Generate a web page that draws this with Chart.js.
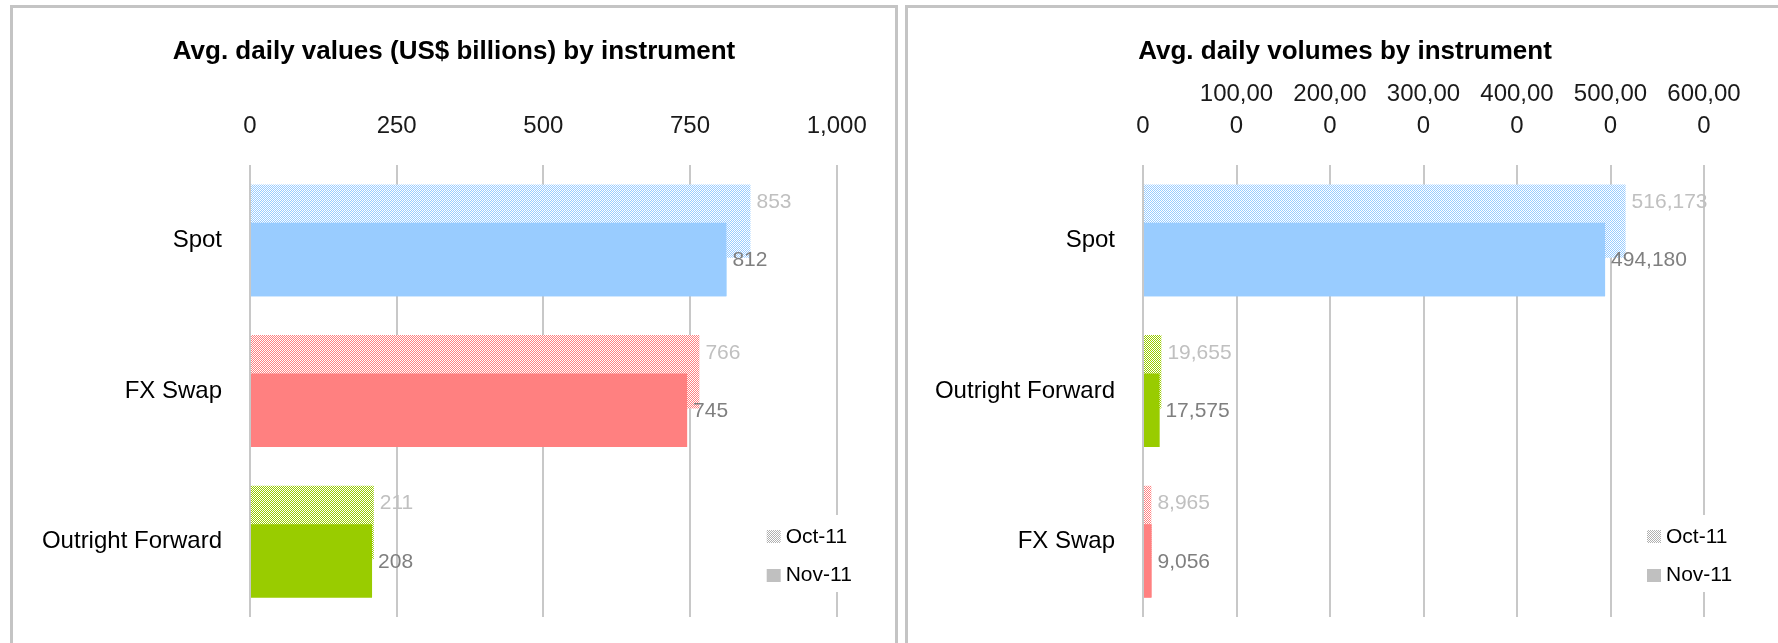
<!DOCTYPE html>
<html>
<head>
<meta charset="utf-8">
<script src="https://cdn.jsdelivr.net/npm/chart.js@4.4.1/dist/chart.umd.min.js"></script>
<style>
    html, body { margin: 0; padding: 0; background: #fff; overflow: hidden; width: 1778px; height: 643px; }
    .panel { position: absolute; border: 3px solid #c4c4c4; border-bottom: none; box-sizing: border-box; }
    #panelLeft { left: 10px; top: 5px; width: 888px; height: 660px; }
    #panelRight { left: 905px; top: 5px; width: 900px; height: 660px; }
    canvas { position: absolute; }
    #valuesChart { left: 13px; top: 8px; }
    #volumesChart { left: 908px; top: 8px; }
</style>
</head>
<body>
<div class="panel" id="panelLeft"></div>
<div class="panel" id="panelRight"></div>
<canvas id="valuesChart" width="882" height="635"></canvas>
<canvas id="volumesChart" width="874" height="635"></canvas>
<script>
// values chart (US$ billions)
const valueCategories = ['Spot', 'FX Swap', 'Outright Forward'];
const valuesOct = [853, 766, 211];
const valuesNov = [812, 745, 208];
const valueTicks = ['0', '250', '500', '750', '1,000'];

// volumes chart
const volumeCategories = ['Spot', 'Outright Forward', 'FX Swap'];
const volumesOct = [516173, 19655, 8965];
const volumesNov = [494180, 17575, 9056];
const volumeTicks = [['', '0'], ['100,00', '0'], ['200,00', '0'], ['300,00', '0'], ['400,00', '0'], ['500,00', '0'], ['600,00', '0']];

const seriesNames = ['Oct-11', 'Nov-11'];
const instrumentColors = { 'Spot': '#99ccff', 'FX Swap': '#ff8080', 'Outright Forward': '#99cc00' };

const FONT = '"Liberation Sans", Arial, sans-serif';
Chart.defaults.font.family = FONT;

function checker(color) {
    const c = document.createElement('canvas');
    c.width = 2;
    c.height = 2;
    const g = c.getContext('2d');
    g.fillStyle = '#ffffff';
    g.fillRect(0, 0, 2, 2);
    g.fillStyle = color;
    g.fillRect(0, 0, 1, 1);
    g.fillRect(1, 1, 1, 1);
    return g.createPattern(c, 'repeat');
}

// Nov bars sit on top of the Oct bars, then the value labels
const barLabels = {
    id: 'barLabels',
    afterDatasetsDraw(chart) {
        chart.getDatasetMeta(1).controller.draw();
        const ctx = chart.ctx;
        ctx.save();
        ctx.font = '21px ' + FONT;
        ctx.textAlign = 'left';
        ctx.textBaseline = 'middle';
        chart.data.datasets.forEach((ds, i) => {
            ctx.fillStyle = i === 0 ? '#c0c0c0' : '#7f7f7f';
            chart.getDatasetMeta(i).data.forEach((bar, j) => {
                const y = i === 0 ? bar.y - bar.height * 0.26 : bar.y + 1;
                ctx.fillText(ds.data[j].toLocaleString('en-US'), bar.x + 6, y);
            });
        });
        ctx.restore();
    }
};

// small legend in the lower right corner of the plot
const cornerLegend = {
    id: 'cornerLegend',
    afterDatasetsDraw(chart, args, opts) {
        const { right, bottom } = chart.chartArea;
        const ctx = chart.ctx;
        const x = right + opts.dx;
        ctx.save();
        ctx.fillStyle = '#ffffff';
        ctx.fillRect(x - 7, bottom - 102, opts.width, 77);
        ctx.fillStyle = checker('#b0b0b0');
        ctx.fillRect(x, bottom - 87, 14, 13);
        ctx.fillStyle = '#c0c0c0';
        ctx.fillRect(x, bottom - 48, 14, 13);
        ctx.fillStyle = '#000';
        ctx.font = '21px ' + FONT;
        ctx.textAlign = 'left';
        ctx.textBaseline = 'middle';
        ctx.fillText(seriesNames[0], x + 19, bottom - 80);
        ctx.fillText(seriesNames[1], x + 19, bottom - 42);
        ctx.restore();
    }
};

function buildChart(id, title, categories, oct, nov, max, step, tickLabels, axisWidth, rightGap, legendDx, legendWidth) {
    const solid = categories.map(c => instrumentColors[c]);
    const hatched = categories.map(c => checker(instrumentColors[c]));
    return new Chart(document.getElementById(id), {
        type: 'bar',
        data: {
            labels: categories,
            datasets: [
                { label: seriesNames[0], data: oct, backgroundColor: hatched, yAxisID: 'y' },
                { label: seriesNames[1], data: nov, backgroundColor: solid, yAxisID: 'y' }
            ]
        },
        options: {
            indexAxis: 'y',
            responsive: false,
            animation: false,
            layout: { padding: { left: 0, right: 0, top: 0, bottom: 26 } },
            datasets: { bar: { categoryPercentage: 0.51, barPercentage: 1.91 } },
            scales: {
                x: {
                    type: 'linear',
                    position: 'top',
                    min: 0,
                    max: max,
                    ticks: {
                        stepSize: step,
                        padding: 23,
                        color: '#1a1a1a',
                        font: { size: 24, lineHeight: 1.33 },
                        callback: (v, i) => tickLabels[i]
                    },
                    grid: { color: '#c8c8c8', lineWidth: 2, drawTicks: false },
                    border: { display: false },
                    afterFit: s => { s.height = 90.4; }
                },
                y: {
                    grid: { display: false },
                    border: { display: false },
                    ticks: { padding: 20, color: '#000', font: { size: 24 } },
                    afterFit: s => {
                        s.width = axisWidth;
                        s.paddingTop = 0;
                        s.paddingBottom = 0;
                    }
                },
                yGap: {
                    type: 'category',
                    position: 'right',
                    offset: true,
                    grid: { display: false },
                    border: { display: false },
                    ticks: { display: false },
                    afterFit: s => {
                        s.width = rightGap;
                        s.paddingTop = 0;
                        s.paddingBottom = 0;
                    }
                }
            },
            plugins: {
                legend: { display: false },
                tooltip: { enabled: false },
                title: {
                    display: true,
                    text: title,
                    color: '#000',
                    font: { size: 26, weight: 'bold' },
                    padding: { top: 28, bottom: 7.4 }
                },
                cornerLegend: { dx: legendDx, width: legendWidth }
            }
        },
        plugins: [barLabels, cornerLegend]
    });
}

buildChart('valuesChart', 'Avg. daily values (US$ billions) by instrument',
    valueCategories, valuesOct, valuesNov, 1000, 250, valueTicks, 237, 58.3, -70, 103);
buildChart('volumesChart', 'Avg. daily volumes by instrument',
    volumeCategories, volumesOct, volumesNov, 600000, 100000, volumeTicks, 235, 78, -57, 99);
</script>
</body>
</html>
